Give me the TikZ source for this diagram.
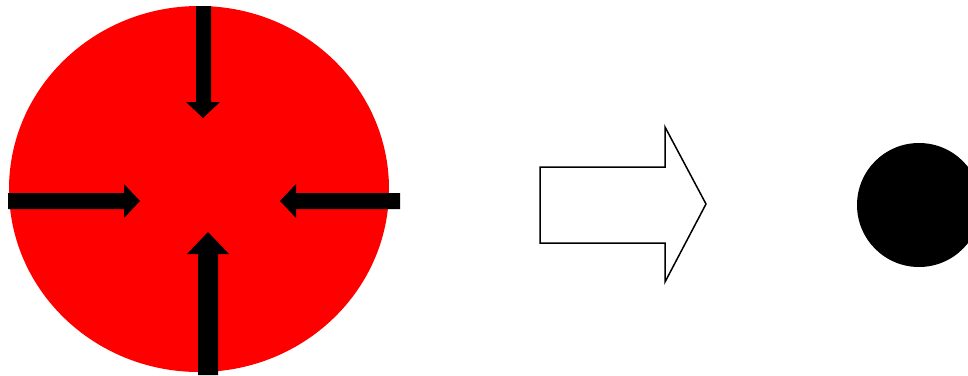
\documentclass[tikz,border=0pt]{standalone}
\begin{document}
\begin{tikzpicture}[x=1pt,y=-1pt,
  blackarrow/.style={fill=black,draw=none},
  hollowarrow/.style={draw=black,line width=1.5pt,fill=white,line join=miter}]
\useasboundingbox (0,0) rectangle (968,375);
\clip (0,0) rectangle (968,375);
% red disc
\fill[red] (199,189) ellipse [x radius=190, y radius=183];
% top arrow (down)
\path[blackarrow] (196,6) -- (211,6) -- (211,102) -- (220,102) -- (203,118) -- (186,102) -- (196,102) -- cycle;
% left arrow (right)
\path[blackarrow] (8,193) -- (124,193) -- (124,184) -- (140,201) -- (124,218) -- (124,209) -- (8,209) -- cycle;
% right arrow (left)
\path[blackarrow] (400,193) -- (296,193) -- (296,184) -- (280,201) -- (296,218) -- (296,209) -- (400,209) -- cycle;
% bottom arrow (up)
\path[blackarrow] (198,375) -- (198,254) -- (187,254) -- (208,232) -- (229,254) -- (218,254) -- (218,375) -- cycle;
% hollow block arrow
\path[hollowarrow] (540,167) -- (665,167) -- (665,127) -- (706,204) -- (665,282) -- (665,243) -- (540,243) -- cycle;
% black dot
\fill[black] (919,205) circle [radius=62];
\end{tikzpicture}
\end{document}
